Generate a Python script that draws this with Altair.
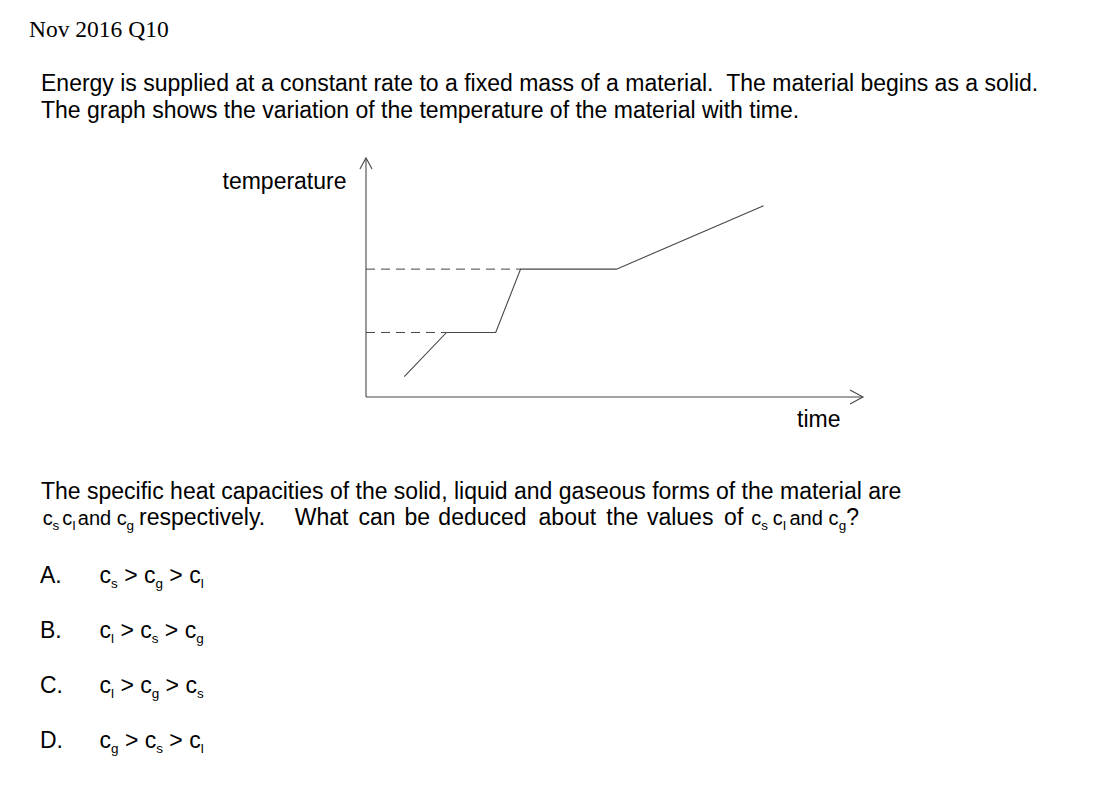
import altair as alt
import pandas as pd

# ---------------- graph data (arbitrary units, axes run 0..10) ----------------
time_pts = [0.77, 1.62, 2.61, 3.11, 5.04, 8.0]
temp_pts = [0.85, 2.7, 2.7, 5.35, 5.35, 8.0]
plateau_temps = [2.7, 5.35]
plateau_start_times = [1.62, 3.11]
axis_max = 10

# ---------------- text content ----------------
header_text = "Nov 2016 Q10"
intro_lines = [
    "Energy is supplied at a constant rate to a fixed mass of a material.\u00a0 The material begins as a solid.",
    "The graph shows the variation of the temperature of the material with time.",
]
y_label = "temperature"
x_label = "time"
question_line1 = "The specific heat capacities of the solid, liquid and gaseous forms of the material are"
question_line2_head = ["c", "s", "c", "l", "and c", "g", "respectively."]
question_line2_head_kind = ["sym", "sub", "sym", "sub", "sym", "sub", "txt"]
question_line2_middle = "What can be deduced about the values of"
question_line2_tail = ["c", "s", "c", "l", "and c", "g", "?"]
question_line2_tail_kind = ["sym", "sub", "sym", "sub", "sym", "sub", "txt"]
option_letters = ["A.", "B.", "C.", "D."]
option_orders = [["s", "g", "l"], ["l", "s", "g"], ["l", "g", "s"], ["g", "s", "l"]]

# ---------------- layout (page pixels, minus the 8px body margin) ----------------
M = 8
W, H = 1098, 786
X_RANGE = [366 - M, 863 - M]
Y_RANGE = [397 - M, 158 - M]
F = 23        # body font size
S = 13.5      # subscript font size
SUB_DY = 5    # subscript baseline shift
NB = "\u00a0"

ARIAL = {' ': 278, NB: 278, '.': 278, ',': 278, '?': 556, '>': 584, 'W': 944,
         'a': 556, 'b': 556, 'c': 500, 'd': 556, 'e': 556, 'f': 278, 'g': 556, 'h': 556,
         'i': 222, 'l': 222, 'm': 833, 'n': 556, 'o': 556, 'p': 556, 'q': 556, 'r': 333,
         's': 500, 't': 278, 'u': 556, 'v': 500, 'w': 722, 'x': 500, 'y': 500}


def text_width(s, size):
    return sum(ARIAL.get(ch, 556) for ch in s) * size / 1000.0


rows = []


def add(text, x, y, size):
    rows.append({"text": text.replace(" ", NB), "px": x - M, "py": y - M, "fs": size})


add(intro_lines[0], 41, 90.5, F)
add(intro_lines[1], 41, 118, F)
add(y_label, 222.5, 188.5, F)
add(x_label, 797, 426.5, F)
add(question_line1, 41, 498.5, F)

# question line 2
Q2_BASE = 525
q2_size = {"sym": 20, "sub": S, "txt": F}
head_x = [42.8, 52.5, 62.2, 72.5, 77.8, 126.5, 139]
for txt, kind, x in zip(question_line2_head, question_line2_head_kind, head_x):
    add(txt, x, Q2_BASE + (SUB_DY if kind == "sub" else 0), q2_size[kind])

mid_start, tail_start = 294.8, 751.2
k = (tail_start - mid_start) / text_width(question_line2_middle + " ", F)
cum = 0.0
for word in question_line2_middle.split(" "):
    add(word, mid_start + k * cum, Q2_BASE, F)
    cum += text_width(word + " ", F)

tail_x = [751.2, 761.2, 772.8, 783, 789.5, 838.8, 846.2]
for txt, kind, x in zip(question_line2_tail, question_line2_tail_kind, tail_x):
    add(txt, x, Q2_BASE + (SUB_DY if kind == "sub" else 0), q2_size[kind])

# options
option_baselines = [582.7, 638.3, 693.3, 748.3]
SP = text_width(" ", F)
for letter, order, yb in zip(option_letters, option_orders, option_baselines):
    add(letter, 40, yb, F)
    x = 99.5
    for kk, sub in enumerate(order):
        if kk > 0:
            x += SP
            add(">", x, yb, F)
            x += text_width(">", F) + SP
        add("c", x, yb, F)
        x += text_width("c", F)
        add(sub, x, yb + SUB_DY, S)
        x += text_width(sub, S)

text_df = pd.DataFrame(rows)
header_df = pd.DataFrame({"text": [header_text], "px": [29 - M], "py": [36.7 - M], "fs": [23.5]})

curve_df = pd.DataFrame({"time": time_pts, "temp": temp_pts, "order": list(range(len(time_pts)))})
dash_df = pd.DataFrame({"t0": [0, 0], "t1": plateau_start_times, "temp": plateau_temps})
axes_df = pd.DataFrame({"t0": [0, 0], "t1": [axis_max, 0], "y0": [0, 0], "y1": [0, axis_max]})
xarrow_df = pd.DataFrame({"time": [axis_max], "temp": [0]})
yarrow_df = pd.DataFrame({"time": [0], "temp": [axis_max]})

xs = alt.Scale(domain=[0, axis_max], range=X_RANGE, nice=False, zero=False)
ys = alt.Scale(domain=[0, axis_max], range=Y_RANGE, nice=False, zero=False)
LINE = "#474747"

curve = alt.Chart(curve_df).mark_line(color=LINE, strokeWidth=1.1).encode(
    x=alt.X("time:Q", scale=xs, axis=None),
    y=alt.Y("temp:Q", scale=ys, axis=None),
    order="order:Q",
)
dashes = alt.Chart(dash_df).mark_rule(color=LINE, strokeWidth=1, strokeDash=[9, 6]).encode(
    x=alt.X("t0:Q", scale=xs, axis=None),
    x2="t1:Q",
    y=alt.Y("temp:Q", scale=ys, axis=None),
)
axes = alt.Chart(axes_df).mark_rule(color=LINE, strokeWidth=1.1).encode(
    x=alt.X("t0:Q", scale=xs, axis=None),
    x2="t1:Q",
    y=alt.Y("y0:Q", scale=ys, axis=None),
    y2="y1:Q",
)
xarrow = alt.Chart(xarrow_df).mark_point(
    shape="M -1 -0.54 L 0 0 L -1 0.54", size=676, filled=False,
    stroke=LINE, strokeWidth=1.1, opacity=1,
).encode(
    x=alt.X("time:Q", scale=xs, axis=None),
    y=alt.Y("temp:Q", scale=ys, axis=None),
)
yarrow = alt.Chart(yarrow_df).mark_point(
    shape="M -0.55 1 L 0 0 L 0.55 1", size=484, filled=False,
    stroke=LINE, strokeWidth=1.1, opacity=1,
).encode(
    x=alt.X("time:Q", scale=xs, axis=None),
    y=alt.Y("temp:Q", scale=ys, axis=None),
)

body_text = alt.Chart(text_df).mark_text(
    align="left", baseline="alphabetic", font="Liberation Sans", color="black",
).encode(
    x=alt.X("px:Q", scale=None, axis=None),
    y=alt.Y("py:Q", scale=None, axis=None),
    text="text:N",
    size=alt.Size("fs:Q", scale=None, legend=None),
)
header = alt.Chart(header_df).mark_text(
    align="left", baseline="alphabetic", font="Liberation Serif", color="black",
).encode(
    x=alt.X("px:Q", scale=None, axis=None),
    y=alt.Y("py:Q", scale=None, axis=None),
    text="text:N",
    size=alt.Size("fs:Q", scale=None, legend=None),
)

chart = alt.layer(
    axes, dashes, curve, xarrow, yarrow, body_text, header
).resolve_scale(
    x="independent", y="independent", size="independent"
).properties(
    width=W, height=H, padding=0,
    autosize=alt.AutoSizeParams(type="none"),
    background="white",
).configure_view(stroke=None)

chart.save("out.html", embed_options={"renderer": "svg", "actions": False})
